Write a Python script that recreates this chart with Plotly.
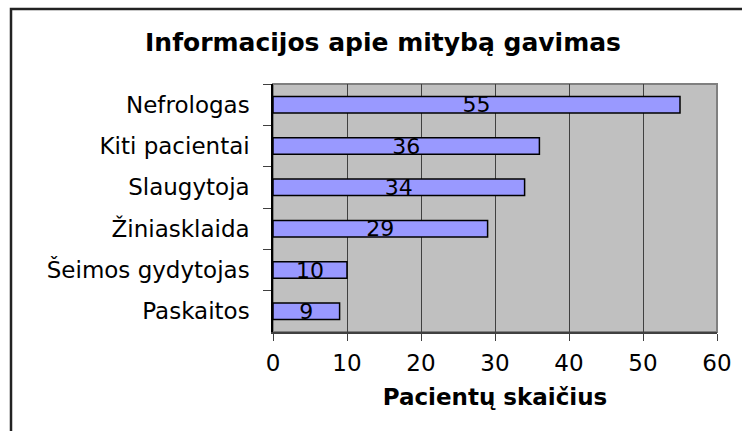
import plotly.graph_objects as go

categories = ["Nefrologas", "Kiti pacientai", "Slaugytoja", "Žiniasklaida", "Šeimos gydytojas", "Paskaitos"]
values = [55, 36, 34, 29, 10, 9]
x_ticks = [0, 10, 20, 30, 40, 50, 60]

title_text = "Informacijos apie mitybą gavimas"
x_title = "Pacientų skaičius"

FONT = "DejaVu Sans"

fig = go.Figure()
fig.add_trace(go.Bar(
    x=values, y=categories, orientation="h",
    marker=dict(color="#9999FF", line=dict(color="black", width=1.5)),
    text=[str(v) for v in values], textposition="inside",
    insidetextanchor="middle", textangle=0, constraintext="none",
    textfont=dict(family=FONT, size=22, color="black"),
    hoverinfo="skip",
))

W, H = 742, 431
L, R, T, B = 273, 25, 84, 99
pw, ph = W - L - R, H - T - B

def px2x(px):
    return (px - L) / pw

def py2y(py):
    return (H - B - py) / ph

fig.update_layout(
    width=W, height=H,
    margin=dict(l=L, r=R, t=T, b=B, autoexpand=False),
    paper_bgcolor="white", plot_bgcolor="#C0C0C0",
    bargap=0.6, showlegend=False,
    font=dict(family=FONT, color="black"),
    title=dict(text="<b>" + title_text + "</b>", x=383 / W, xanchor="center",
               xref="container", yref="container", y=1 - 42 / H, yanchor="middle",
               font=dict(family=FONT, size=25, color="black")),
    xaxis=dict(range=[0, 60], tickvals=x_ticks, ticktext=[str(t) for t in x_ticks],
               showgrid=True, gridcolor="#404040", gridwidth=1, zeroline=False,
               showline=True, linecolor="#404040", linewidth=1.5,
               ticks="outside", ticklen=7, tickcolor="#404040", tickwidth=1,
               ticklabelstandoff=3,
               tickfont=dict(family=FONT, size=23, color="black"),
               title=dict(text="<b>" + x_title + "</b>", standoff=14,
                          font=dict(family=FONT, size=23, color="black"))),
    yaxis=dict(autorange="reversed", showgrid=False, zeroline=False,
               showline=True, linecolor="black", linewidth=1.5,
               ticks="outside", tickson="boundaries", ticklen=8, tickcolor="#404040", tickwidth=1,
               ticklabelstandoff=17,
               tickfont=dict(family=FONT, size=23, color="black")),
    shapes=[
        dict(type="rect", xref="paper", yref="paper", x0=0, x1=1, y0=0, y1=1,
             line=dict(color="#808080", width=2), layer="below"),
        dict(type="rect", xref="paper", yref="paper", x0=px2x(11), x1=px2x(760),
             y0=py2y(9), y1=py2y(450), line=dict(color="#222222", width=2.5)),
    ],
)

fig.write_html("out.html", config={"displayModeBar": False},
               post_script="document.body.style.margin='0px';document.body.style.padding='0px';")
